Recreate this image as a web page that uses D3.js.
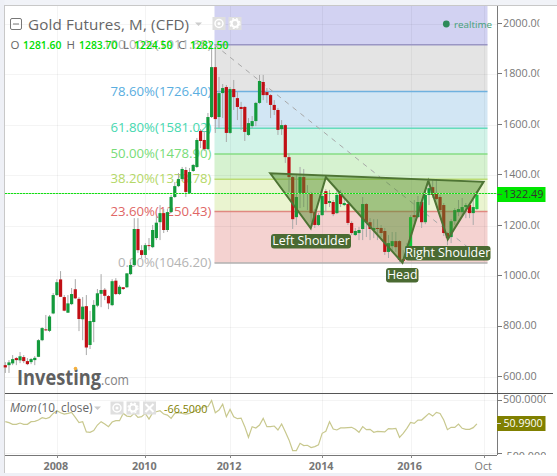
<!DOCTYPE html>
<html><head><meta charset="utf-8">
<script src="https://cdn.jsdelivr.net/npm/d3@7"></script>
<style>
html,body{margin:0;padding:0;background:#fff}
svg{display:block}
text{font-family:"Open Sans",sans-serif}
</style></head><body><svg id="c" width="557" height="476"></svg>
<script>
const opens=[647,647,654,675,666,679,663,659,667,680,746,789,783,852,925,987,917,855,889,948,910,829,881,727,818,883,930,946,921,885,982,929,956,956,1008,1044,1187,1103,1084,1123,1115,1151,1214,1250,1183,1254,1314,1357,1385,1421,1330,1417,1433,1576,1540,1504,1631,1829,1631,1726,1750,1568,1742,1706,1671,1671,1560,1595,1615,1687,1770,1730,1718,1679,1659,1583,1599,1472,1393,1234,1330,1393,1326,1326,1254,1203,1242,1337,1290,1294,1250,1330,1282,1286,1211,1163,1171,1187,1286,1214,1183,1191,1191,1179,1096,1119,1139,1139,1068,1068,1119,1242,1234,1294,1214,1322,1353,1330,1314,1282,1171,1155,1218,1254,1254,1274,1282,1250,1266];
const highs=[659,667,687,679,699,687,675,675,683,750,798,846,846,933,988,1020,925,925,953,988,917,917,925,862,905,949,1008,953,925,988,992,965,957,1012,1056,1230,1230,1123,1131,1151,1203,1238,1282,1266,1266,1322,1373,1409,1433,1433,1429,1445,1548,1583,1576,1647,1913,1913,1790,1762,1758,1750,1778,1730,1691,1675,1627,1635,1691,1798,1798,1746,1722,1698,1667,1619,1603,1488,1397,1401,1433,1425,1361,1334,1266,1250,1342,1345,1342,1302,1342,1342,1314,1290,1218,1191,1195,1314,1290,1230,1226,1226,1203,1191,1163,1175,1175,1143,1103,1131,1242,1302,1318,1302,1342,1381,1381,1381,1322,1290,1175,1226,1270,1302,1310,1290,1290,1302,1338];
const lows=[616,616,647,647,655,655,647,651,647,679,742,782,778,849,921,917,861,854,885,909,782,746,687,711,738,877,877,905,869,881,925,925,945,953,1004,1040,1092,1072,1072,1103,1111,1143,1143,1171,1175,1250,1310,1353,1377,1314,1326,1413,1429,1508,1496,1500,1627,1568,1587,1627,1532,1564,1659,1619,1580,1536,1556,1587,1595,1683,1698,1687,1627,1639,1560,1560,1449,1334,1187,1203,1270,1274,1262,1214,1191,1199,1238,1254,1274,1238,1246,1274,1278,1203,1163,1159,1143,1143,1155,1143,1151,1143,1155,1084,1072,1103,1096,1056,1052,1064,1115,1214,1230,1191,1206,1282,1310,1302,1254,1159,1123,1131,1203,1238,1242,1230,1230,1203,1262];
const closes=[638,658,671,667,682,663,651,671,676,746,794,785,840,925,976,918,863,892,929,912,830,879,717,822,886,932,945,922,892,980,929,958,949,1011,1044,1187,1103,1084,1123,1119,1183,1212,1250,1183,1254,1314,1357,1385,1425,1334,1413,1441,1540,1536,1504,1631,1829,1623,1726,1746,1568,1742,1710,1671,1663,1572,1607,1615,1687,1774,1718,1718,1679,1659,1580,1599,1472,1393,1226,1314,1393,1326,1330,1250,1203,1242,1318,1286,1298,1246,1322,1286,1290,1211,1171,1179,1183,1286,1214,1187,1191,1187,1171,1096,1131,1139,1115,1064,1060,1119,1234,1234,1294,1214,1322,1349,1322,1306,1262,1171,1151,1218,1262,1266,1274,1282,1250,1274,1322.49];
const momentum=[92,73,41,41,66,41,41,92,98,123,168,149,174,250,301,263,237,250,269,174,73,92,-104,-111,-79,28,92,47,-3,85,111,111,250,199,187,250,174,187,250,142,263,282,301,237,218,155,250,263,250,237,250,282,313,345,377,377,497,263,313,427,187,326,187,149,161,-3,-206,-3,-28,28,155,-3,-3,9,-66,47,-98,-256,-459,-459,-320,-364,-358,-402,-383,-351,-130,-92,92,-47,-66,-28,-28,-22,-16,-54,-111,-3,-60,-54,-111,-92,-98,-104,-41,-47,-35,-206,-130,-35,79,60,123,123,187,250,199,269,250,123,-60,-16,-16,47,-35,-54,-54,-22,51];
const brightBars=[110,128];
const priceTicks=[2000,1800,1600,1400,1200,1000,800,600];
const timeTickIdx=[14,38,61,86,110,130];
const timeTickLabels=["2008","2010","2012","2014","2016","Oct"];
const momTicks=[500,-500];
const fibValues=[1911.68,1726.40,1581.02,1478.90,1378.78,1250.43,1046.20];
const fibPct=["100.00%","78.60%","61.80%","50.00%","38.20%","23.60%","0.00%"];
const fibLine=["#9a96c4","#6fb1de","#66dcbc","#84dc84","#bcdc74","#e08880","#b0b0b0"];
const fibText=["#b4b4b4","#5aaee0","#46d8b0","#78dc78","#b4d868","#e06666","#b4b4b4"];
const fibFill=["#e4e4e4","#d2e6f4","#d2f3e8","#d6f2d0","#eaf4d0","#f4d2d0"];
const patternIdx=[71.9,82.9,87,107.8,114.8,120.1,129.8];
const patternPx=[1408,1190,1392,1053,1378,1146,1374];
const lastPrice=1322.49;
const lastMom="50.9900";
const ohlcLabels=["O","H","L","C"];
const ohlcValues=["1281.60","1283.70","1224.50","1282.50"];

const svg=d3.select("#c");
const x=d3.scaleLinear().domain([0,128]).range([5.3,476.9]);
const y=d3.scaleLinear().domain([2000,600]).range([24,377]);
const ym=d3.scaleLinear().domain([500,-500]).range([400.3,452.7]);
const R=497, L=5;

// chrome
svg.append("rect").attr("x",0).attr("y",0).attr("width",557).attr("height",5).attr("fill","#f1f3f8");
svg.append("rect").attr("x",0).attr("y",0).attr("width",4.5).attr("height",476).attr("fill","#eef0f6");
svg.append("rect").attr("x",0).attr("y",473).attr("width",557).attr("height",3).attr("fill","#eef0f6");
svg.append("line").attr("x1",4.5).attr("x2",557).attr("y1",5.5).attr("y2",5.5).attr("stroke","#c8c8c8");
svg.append("line").attr("x1",4.5).attr("x2",4.5).attr("y1",5).attr("y2",473).attr("stroke","#c8c8c8");

// fib bands
const fy=v=>y(v)-1.5;
const x0=214.5,x1=487.5;
svg.append("rect").attr("x",x0).attr("y",6).attr("width",x1-x0).attr("height",fy(fibValues[0])-6).attr("fill","#d2d2f2");
svg.append("g").selectAll("rect").data(fibFill).join("rect")
 .attr("x",x0).attr("width",x1-x0)
 .attr("y",(d,i)=>fy(fibValues[i])).attr("height",(d,i)=>fy(fibValues[i+1])-fy(fibValues[i])).attr("fill",d=>d);

// grid
const grid=svg.append("g").attr("stroke","#000").attr("stroke-opacity",0.045);
grid.selectAll("line.h").data(priceTicks).join("line").attr("class","h").attr("x1",L).attr("x2",R).attr("y1",d=>Math.round(y(d))+.5).attr("y2",d=>Math.round(y(d))+.5);
grid.selectAll("line.v").data(timeTickIdx).join("line").attr("class","v").attr("y1",6).attr("y2",393).attr("x1",d=>Math.round(x(d))+.5).attr("x2",d=>Math.round(x(d))+.5);
grid.selectAll("line.vm").data(timeTickIdx).join("line").attr("class","vm").attr("y1",394).attr("y2",455).attr("x1",d=>Math.round(x(d))+.5).attr("x2",d=>Math.round(x(d))+.5);
grid.selectAll("line.hm").data(momTicks).join("line").attr("class","hm").attr("x1",L).attr("x2",R).attr("y1",d=>Math.round(ym(d))+.5).attr("y2",d=>Math.round(ym(d))+.5);

// fib lines + labels
svg.append("g").selectAll("line").data(fibValues).join("line")
 .attr("x1",x0).attr("x2",x1).attr("y1",d=>fy(d)).attr("y2",d=>fy(d))
 .attr("stroke",(d,i)=>fibLine[i]).attr("stroke-width",1.5);
svg.append("g").selectAll("text").data(fibValues).join("text")
 .attr("x",211.5).attr("y",d=>fy(d)+.7).attr("text-anchor","end").attr("dominant-baseline","middle")
 .attr("font-size",13.2).attr("fill",(d,i)=>fibText[i]).text((d,i)=>`${fibPct[i]}(${d.toFixed(2)})`);

// fib trend dashed
svg.append("line").attr("x1",x0).attr("y1",fy(fibValues[0])).attr("x2",x1).attr("y2",fy(fibValues[6]))
 .attr("stroke","#a8a8a8").attr("stroke-dasharray","5,5").attr("stroke-width",1);

// candles
const idx=d3.range(opens.length);
const cg=svg.append("g");
cg.selectAll("line").data(idx).join("line")
 .attr("x1",i=>x(i)).attr("x2",i=>x(i)).attr("y1",i=>y(highs[i])).attr("y2",i=>y(lows[i]))
 .attr("stroke","#a9a9a9").attr("stroke-width",1);
cg.selectAll("rect").data(idx).join("rect")
 .attr("x",i=>x(i)-1.6).attr("width",3.2)
 .attr("y",i=>Math.min(y(opens[i]),y(closes[i])))
 .attr("height",i=>Math.max(1,Math.abs(y(opens[i])-y(closes[i]))))
 .attr("fill",i=>closes[i]>=opens[i]?(brightBars.includes(i)?"#10cc3c":"#139a3c"):"#c00f14");

// pattern
const pts=patternIdx.map((d,i)=>[x(d),y(patternPx[i])]);
svg.append("path").attr("d",d3.line()(pts)+"Z").attr("fill","#4f8f2c").attr("fill-opacity",0.48)
 .attr("stroke","#4e7434").attr("stroke-width",2).attr("stroke-linejoin","miter");

// last price dotted: pale solid underlay, dashes on top
svg.append("line").attr("x1",L).attr("x2",R).attr("y1",193.5).attr("y2",193.5)
 .attr("stroke","#a6f2a6").attr("stroke-width",1);
svg.append("line").attr("x1",L).attr("x2",R).attr("y1",193.5).attr("y2",193.5)
 .attr("stroke","#14dc14").attr("stroke-width",1).attr("stroke-dasharray","2,1");

// pattern labels
const pills=[["Left Shoulder",271,234,80,14.5],["Right Shoulder",405,246,85.5,14.5],["Head",386,268,32.5,14.5]];
const pg=svg.append("g");
pills.forEach(p=>{
 pg.append("rect").attr("x",p[1]).attr("y",p[2]).attr("width",p[3]).attr("height",p[4]).attr("rx",3).attr("fill","#4a6a32");
 pg.append("text").attr("x",p[1]+p[3]/2).attr("y",p[2]+p[4]/2+.5).attr("text-anchor","middle").attr("dominant-baseline","middle").attr("fill","#fff").attr("font-size",12.4).text(p[0]);
});

// header
svg.append("rect").attr("x",10.5).attr("y",18.5).attr("width",11).attr("height",11).attr("rx",1.5).attr("fill","none").attr("stroke","#777");
svg.append("line").attr("x1",13).attr("x2",19).attr("y1",24).attr("y2",24).attr("stroke","#777");
svg.append("text").attr("x",28).attr("y",29.5).attr("font-size",15.2).attr("fill","#666").attr("font-family","Lato").attr("letter-spacing",.15).text("Gold Futures, M, (CFD)");
svg.append("path").attr("d","M195 22.5h7l-3.5 3.5z").attr("fill","#ccc");
function iconBtn(cx,cy,kind){
 svg.append("rect").attr("x",cx-6.5).attr("y",cy-6.5).attr("width",13).attr("height",13).attr("fill","#dfdfdf");
 if(kind=="eye"){svg.append("circle").attr("cx",cx).attr("cy",cy).attr("r",4).attr("fill","none").attr("stroke","#fff").attr("stroke-width",1.5);svg.append("circle").attr("cx",cx).attr("cy",cy).attr("r",1.5).attr("fill","#fff");}
 if(kind=="gear"){svg.append("circle").attr("cx",cx).attr("cy",cy).attr("r",3.5).attr("fill","none").attr("stroke","#fff").attr("stroke-width",2.2);svg.append("circle").attr("cx",cx).attr("cy",cy).attr("r",5).attr("fill","none").attr("stroke","#fff").attr("stroke-width",1.2).attr("stroke-dasharray","2,2");}
 if(kind=="x"){svg.append("path").attr("d",`M${cx-4} ${cy-4}L${cx+4} ${cy+4}M${cx+4} ${cy-4}L${cx-4} ${cy+4}`).attr("stroke","#fff").attr("stroke-width",2);}
}
iconBtn(219,23.5,"eye");iconBtn(235,23.5,"gear");

// OHLC
const olX=[10.5,66.5,123,178], ovX=[23,79,134,190];
ohlcLabels.forEach((t,i)=>{
 svg.append("text").attr("x",olX[i]).attr("y",48.5).attr("font-size",11.5).attr("fill","#666").text(t);
 svg.append("text").attr("x",ovX[i]).attr("y",48.5).attr("font-size",10.4).attr("font-weight",600).attr("fill","#00dd00").text(ohlcValues[i]);
});

// realtime
svg.append("circle").attr("cx",446.3).attr("cy",24).attr("r",3.4).attr("fill","#2e8b5a");
svg.append("text").attr("x",454).attr("y",27.5).attr("font-size",9.8).attr("fill","#43a077").text("realtime");

// watermark
svg.append("text").attr("x",17).attr("y",384.5).attr("font-size",21).attr("font-weight",700).attr("fill","#606060").attr("textLength",84).attr("lengthAdjust","spacingAndGlyphs").text("Investing");
svg.append("text").attr("x",101).attr("y",384.5).attr("font-size",14.5).attr("fill","#858585").attr("textLength",28).attr("lengthAdjust","spacingAndGlyphs").text(".com");
svg.append("circle").attr("cx",75.5).attr("cy",368.5).attr("r",1.8).attr("fill","#f4b040");

// right axis
const ax=svg.append("g");
ax.append("line").attr("x1",R+.5).attr("x2",R+.5).attr("y1",6).attr("y2",455).attr("stroke","#7a7a7a");
const defs=svg.append("defs");
defs.append("clipPath").attr("id","ac").append("rect").attr("x",R).attr("y",0).attr("width",42.5).attr("height",394);
defs.append("clipPath").attr("id","am").append("rect").attr("x",R).attr("y",394).attr("width",49).attr("height",61);
ax.selectAll("line.t").data(priceTicks).join("line").attr("class","t").attr("x1",R).attr("x2",R+5).attr("y1",d=>Math.round(y(d))-.5).attr("y2",d=>Math.round(y(d))-.5).attr("stroke","#777");
ax.append("g").attr("clip-path","url(#ac)").selectAll("text").data(priceTicks).join("text")
 .attr("x",503).attr("y",d=>y(d)).attr("dominant-baseline","middle").attr("font-size",10.8).attr("fill","#777").text(d=>d.toFixed(2));
ax.selectAll("line.m").data(momTicks).join("line").attr("class","m").attr("x1",R).attr("x2",R+5).attr("y1",d=>Math.round(ym(d))+.5).attr("y2",d=>Math.round(ym(d))+.5).attr("stroke","#777");
ax.append("g").attr("clip-path","url(#am)").selectAll("text").data(momTicks).join("text")
 .attr("x",503).attr("y",d=>d<0?ym(d)+4.5:ym(d)).attr("dominant-baseline","middle").attr("font-size",10.8).attr("fill","#777").text(d=>d.toFixed(4));

// last price tag
svg.append("rect").attr("x",R).attr("y",187).attr("width",48.5).attr("height",15).attr("fill","#00e600");
svg.append("line").attr("x1",R).attr("x2",R+5).attr("y1",194.5).attr("y2",194.5).attr("stroke","#555");
svg.append("text").attr("x",503.5).attr("y",195).attr("dominant-baseline","middle").attr("font-size",10.8).attr("fill","#333").text(lastPrice.toFixed(2));

// pane separators
svg.append("line").attr("x1",5).attr("x2",553).attr("y1",393.5).attr("y2",393.5).attr("stroke","#555");
svg.append("line").attr("x1",5).attr("x2",R).attr("y1",455.5).attr("y2",455.5).attr("stroke","#777");

// momentum
svg.append("path").datum(momentum).attr("fill","none").attr("stroke","#c8c88e").attr("stroke-width",1.2)
 .attr("d",d3.line().x((d,i)=>x(i)).y(d=>ym(d)));
svg.append("text").attr("x",10).attr("y",412).attr("font-size",11.8).attr("font-style","italic").attr("fill","#666").text("Mom");
svg.append("text").attr("x",38).attr("y",412).attr("font-size",11.8).attr("fill","#666").text("(10, close)");
svg.append("path").attr("d","M94 406.5h7l-3.5 3.5z").attr("fill","#ccc");
iconBtn(117,408,"eye");iconBtn(133,408,"gear");iconBtn(149.5,408,"x");
svg.append("text").attr("x",164).attr("y",412.5).attr("font-size",10.8).attr("fill","#808000").text("-66.5000");
svg.append("rect").attr("x",R).attr("y",416).attr("width",48.5).attr("height",15).attr("fill","#808000");
svg.append("line").attr("x1",R).attr("x2",R+4).attr("y1",423.5).attr("y2",423.5).attr("stroke","#ddd");
svg.append("text").attr("x",503.5).attr("y",424).attr("dominant-baseline","middle").attr("font-size",10.6).attr("fill","#fff").text(lastMom);

// time axis
svg.append("g").selectAll("line").data(timeTickIdx).join("line").attr("x1",d=>Math.round(x(d))+.5).attr("x2",d=>Math.round(x(d))+.5).attr("y1",455).attr("y2",458).attr("stroke","#888");
svg.append("g").selectAll("text").data(timeTickIdx).join("text")
 .attr("x",d=>x(d)-1).attr("y",470).attr("text-anchor","middle").attr("font-size",10.8)
 .attr("font-weight",(d,i)=>timeTickLabels[i]=="Oct"?400:700).attr("fill","#777").text((d,i)=>timeTickLabels[i]);
</script></body></html>
